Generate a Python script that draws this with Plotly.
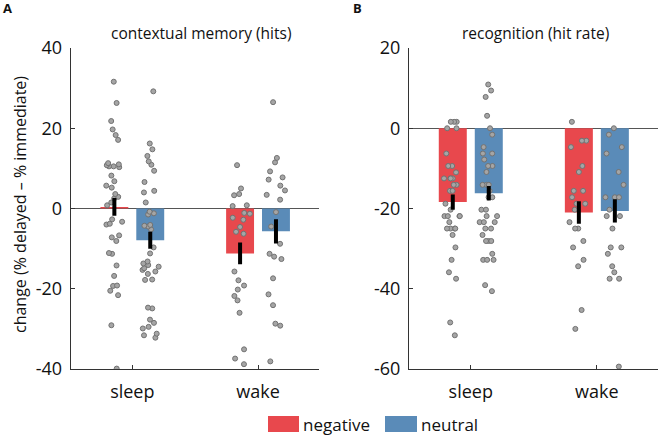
import plotly.graph_objects as go

# ---------------- data ----------------
conditions = ["sleep", "wake"]
series_names = ["negative", "neutral"]
panel_titles = ["contextual memory (hits)", "recognition (hit rate)"]
panel_letters = ["A", "B"]
y_title = "change (% delayed \u2013 % immediate)"

# Panel A: contextual memory (hits)
ctx_neg_sleep = [31.6, 26.3, 21.8, 19.7, 18.3, 17.1, 11.3, 11.0, 10.8, 10.5, 10.3, 10.5,
                 8.2, 6.8, 5.7, 5.2, 3.6, 2.9, 2.5, 1.5, 0.8, -2.7, -3.3, -3.8, -4.0,
                 -6.7, -7.2, -8.1, -11.1, -11.3, -14.2, -16.8, -19.2, -19.3, -20.5,
                 -21.6, -29.1, -39.9]
ctx_neu_sleep = [29.2, 16.2, 14.75, 13.1, 11.75, 10.9, 9.4, 6.6, 4.4, 4.0, 1.5, -0.8,
                 -1.2, -1.5, -4.1, -4.3, -4.5, -5.2, -9.7, -11.2, -13.2, -13.7, -14.1,
                 -14.5, -14.9, -15.3, -15.7, -16.3, -17.7, -17.8, -24.7, -24.9, -27.7,
                 -28.5, -29.5, -29.9, -31.2, -31.6, -32.2]
ctx_neg_wake = [10.8, 5.0, 3.6, 3.3, 0.8, 0.6, -1.1, -1.3, -2.3, -2.8, -4.6, -5.8, -6.3,
                -15.7, -17.9, -19.2, -20.2, -21.8, -22.9, -26.0, -35.1, -37.4, -38.8]
ctx_neu_wake = [26.5, 12.6, 11.5, 9.25, 7.75, 7.2, 5.7, 4.5, 3.4, 2.2, -0.9, -4.5, -8.8,
                -11.3, -12.0, -12.6, -17.4, -21.4, -24.1, -28.7, -29.2, -38.1]
ctx_means_neg = [0.4, -11.2]
ctx_means_neu = [-7.9, -5.7]
ctx_se_neg = [2.2, 2.7]
ctx_se_neu = [2.1, 3.0]

# Panel B: recognition (hit rate)
rec_neg_sleep = [1.6, 1.6, 1.6, 0, 0, -6.3, -9.4, -9.4, -11.0, -12.5, -12.5, -12.5, -12.5,
                 -14.1, -14.1, -15.6, -15.6, -18.8, -20.3, -21.9, -21.9, -21.9, -21.9,
                 -23.4, -25.0, -25.0, -25.0, -25.0, -26.6, -29.7, -32.8, -35.9, -37.5,
                 -48.4, -51.6]
rec_neu_sleep = [10.9, 9.4, 7.8, 3.1, 0, -1.6, -4.7, -6.3, -6.3, -7.8, -9.4, -9.4, -10.9,
                 -14.1, -14.1, -14.1, -15.6, -17.2, -17.2, -20.3, -20.3, -21.9, -21.9,
                 -23.4, -23.4, -23.4, -25.0, -25.0, -26.6, -28.1, -28.1, -28.1, -31.3,
                 -32.8, -32.8, -32.8, -39.1, -40.6]
rec_neg_wake = [1.6, -3.1, -3.1, -4.7, -9.4, -10.9, -15.6, -15.6, -17.2, -18.8, -18.8,
                -20.3, -23.4, -25.0, -25.0, -28.1, -29.7, -32.8, -34.4, -45.3, -50.0]
rec_neu_wake = [0, -1.6, -4.7, -6.3, -10.9, -14.1, -17.2, -17.2, -17.2, -20.3, -21.9,
                -21.9, -25.0, -29.7, -29.7, -31.3, -34.4, -35.9, -37.5, -37.5, -59.4]
rec_means_neg = [-18.4, -21.0]
rec_means_neu = [-16.2, -20.6]
rec_se_neg = [1.9, 2.8]
rec_se_neu = [1.8, 2.9]

y_ranges = [[-40, 40], [-60, 20]]
y_tickvals = [[-40, -20, 0, 20, 40], [-60, -40, -20, 0, 20]]
y_ticktext = [["-40", "-20", "0", "20", "40"], ["-60", "-40", "-20", "0", "20"]]

# ---------------- style ----------------
RED = "#E8484D"
BLUE = "#5A8BB8"
colors = [RED, BLUE]
FONT = "Open Sans"
W, H = 660, 439

fig = go.Figure()

panels = [
    dict(points=[(ctx_neg_sleep, ctx_neg_wake), (ctx_neu_sleep, ctx_neu_wake)],
         means=[ctx_means_neg, ctx_means_neu], se=[ctx_se_neg, ctx_se_neu]),
    dict(points=[(rec_neg_sleep, rec_neg_wake), (rec_neu_sleep, rec_neu_wake)],
         means=[rec_means_neg, rec_means_neu], se=[rec_se_neg, rec_se_neu]),
]

for p, panel in enumerate(panels):
    xa = "x" if p == 0 else "x2"
    ya = "y" if p == 0 else "y2"
    for s in range(2):
        fig.add_trace(go.Bar(
            x=conditions, y=panel["means"][s], marker=dict(color=colors[s], line=dict(width=0)),
            offsetgroup=series_names[s], xaxis=xa, yaxis=ya, showlegend=False,
            hoverinfo="skip"))
    for s in range(2):
        sleep_pts, wake_pts = panel["points"][s]
        fig.add_trace(go.Box(
            x=[conditions[0]] * len(sleep_pts) + [conditions[1]] * len(wake_pts),
            y=list(sleep_pts) + list(wake_pts),
            boxpoints="all", jitter=0.75, pointpos=0,
            fillcolor="rgba(0,0,0,0)", line=dict(width=0, color="rgba(0,0,0,0)"),
            marker=dict(size=5, color="#A5A5A5", line=dict(width=1, color="#727272")),
            offsetgroup=series_names[s], xaxis=xa, yaxis=ya, showlegend=False,
            hoverinfo="skip"))
    for s in range(2):
        fig.add_trace(go.Scatter(
            x=conditions, y=panel["means"][s], mode="markers",
            marker=dict(size=1, color="rgba(0,0,0,0)"),
            error_y=dict(type="data", array=panel["se"][s], color="black",
                         thickness=4, width=0),
            offsetgroup=series_names[s], xaxis=xa, yaxis=ya, showlegend=False,
            hoverinfo="skip"))

x_domains = [[70.7 / W, 319 / W], [409 / W, 658 / W]]
y_domain = [(H - 369) / H, (H - 48) / H]

axis_common = dict(showline=True, linecolor="#333333", linewidth=1, ticks="inside",
                   ticklen=4, tickcolor="#333333", showgrid=False, automargin=False,
                   tickfont=dict(family=FONT, size=18, color="#111111"))

layout = dict(
    template="none",
    width=W, height=H, margin=dict(l=0, r=0, t=0, b=0, pad=0, autoexpand=False),
    paper_bgcolor="white", plot_bgcolor="white",
    barmode="group", bargap=0.429, bargroupgap=0.222,
    boxmode="group", boxgap=0.429, boxgroupgap=0.222,
    scattermode="group", scattergap=0.429,
    font=dict(family=FONT, color="#111111"),
    showlegend=False, hovermode=False,
)
for p in range(2):
    sfx = "" if p == 0 else "2"
    layout["xaxis" + sfx] = dict(axis_common, domain=x_domains[p], type="category",
                                 range=[-0.49, 1.485], anchor="y" + sfx,
                                 zeroline=False, ticklabelstandoff=6)
    layout["yaxis" + sfx] = dict(axis_common, domain=y_domain, range=y_ranges[p],
                                 tickvals=y_tickvals[p], ticktext=y_ticktext[p],
                                 anchor="x" + sfx,
                                 zeroline=True, zerolinecolor="#555555", zerolinewidth=1,
                                 ticklabelstandoff=4)
fig.update_layout(**layout)

annotations = []
title_x = [201, 535]
for p in range(2):
    annotations.append(dict(text=panel_titles[p], x=title_x[p] / W, y=(H - 33) / H,
                            xref="paper", yref="paper", showarrow=False,
                            xanchor="center", yanchor="middle",
                            font=dict(family=FONT, size=15.5, color="#111111")))
letter_x = [7, 357]
for p in range(2):
    annotations.append(dict(text="<b>" + panel_letters[p] + "</b>", x=letter_x[p] / W,
                            y=(H - 8) / H, xref="paper", yref="paper", showarrow=False,
                            xanchor="center", yanchor="middle",
                            font=dict(family=FONT, size=13, color="#111111")))
annotations.append(dict(text=y_title, x=20 / W, y=(H - 205) / H, xref="paper",
                        yref="paper", showarrow=False, textangle=-90,
                        xanchor="center", yanchor="middle",
                        font=dict(family=FONT, size=16, color="#111111")))
shapes = []
legend_boxes = [(268, 299), (385, 417)]
for s in range(2):
    x0, x1 = legend_boxes[s]
    shapes.append(dict(type="rect", xref="paper", yref="paper",
                       x0=x0 / W, x1=x1 / W, y0=(H - 432) / H, y1=(H - 416) / H,
                       fillcolor=colors[s], line=dict(width=0)))
    annotations.append(dict(text=series_names[s], x=(x1 + 2) / W, y=(H - 424) / H,
                            xref="paper", yref="paper", showarrow=False,
                            xanchor="left", yanchor="middle",
                            font=dict(family=FONT, size=17, color="#111111")))
fig.update_layout(annotations=annotations, shapes=shapes)

fig.write_html(
    "out.html",
    config={"displayModeBar": False, "staticPlot": True},
    post_script="document.body.style.margin='0';document.body.style.padding='0';"
                "document.body.style.overflow='hidden';",
)
